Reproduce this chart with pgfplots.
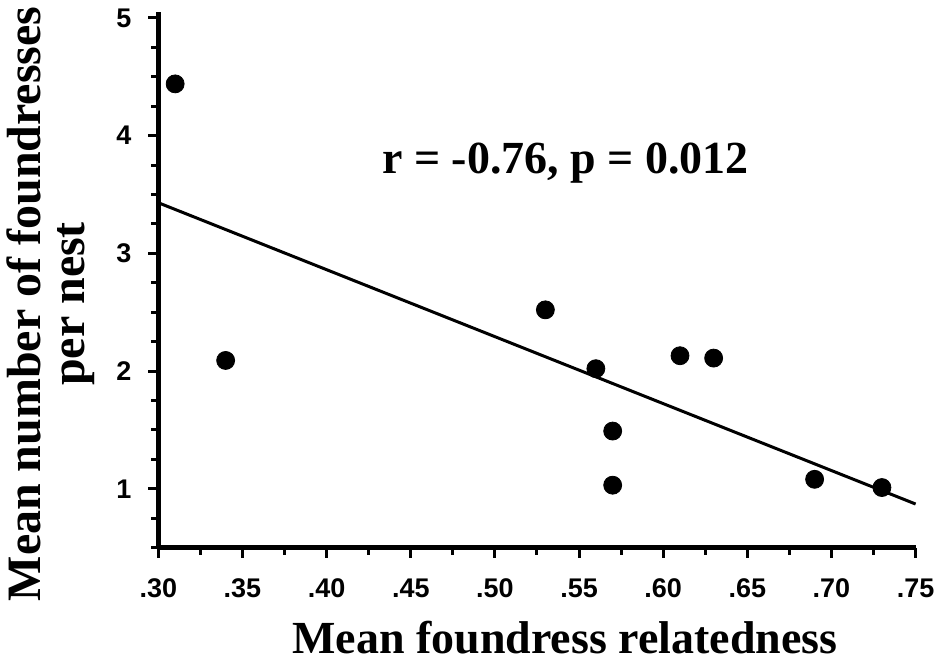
\documentclass[border=0pt]{standalone}
\usepackage{fontspec}
\setmainfont{Liberation Serif}
\newfontfamily\arialfont{Liberation Sans}
\usepackage{pgfplots}
\pgfplotsset{compat=1.18}

\begin{document}
\begin{tikzpicture}
\begin{axis}[
    scale only axis,
    width=379pt,
    height=268pt,
    xmin=0.30, xmax=0.75,
    ymin=0.5, ymax=5.05,
    axis lines=left,
    x axis line style={line width=2.2pt, -},
    y axis line style={line width=2.2pt, -},
    tick style={black, line width=1.5pt},
    tick align=outside,
    major tick length=5pt,
    minor tick length=3.5pt,
    /pgf/number format/assume math mode=true,
    xtick={0.30,0.35,...,0.76},
    xticklabels={.30,.35,.40,.45,.50,.55,.60,.65,.70,.75},
    minor xtick={0.325,0.375,...,0.74},
    ytick={1,2,3,4,5},
    minor ytick={0.5,0.75,1.25,1.5,1.75,2.25,2.5,2.75,3.25,3.5,3.75,4.25,4.5,4.75},
    tick label style={font=\arialfont\bfseries\fontsize{13.5}{15}\selectfont},
    xticklabel style={yshift=-7pt},
    yticklabel style={xshift=-5pt},
    xlabel={Mean foundress relatedness},
    ylabel={Mean number of foundresses\\per nest},
    xlabel style={font=\bfseries\fontsize{23}{22}\selectfont, yshift=-5pt, xshift=14pt},
    ylabel style={font=\bfseries\fontsize{24}{22}\selectfont, align=center,
        at={(ticklabel cs:0.455)}, yshift=4pt},
    clip=false,
]
\addplot[only marks, mark=*, mark size=4.5pt, black] coordinates {
    (0.31,4.44) (0.34,2.09) (0.53,2.52) (0.56,2.02) (0.57,1.49)
    (0.57,1.03) (0.61,2.13) (0.63,2.11) (0.69,1.08) (0.73,1.01)
};
\addplot[black, line width=1.5pt] coordinates {(0.30,3.43) (0.75,0.87)};
\node[font=\bfseries\fontsize{23}{24}\selectfont] at (axis cs:0.542,3.77) {r = -0.76, p = 0.012};
\end{axis}
\end{tikzpicture}
\end{document}
